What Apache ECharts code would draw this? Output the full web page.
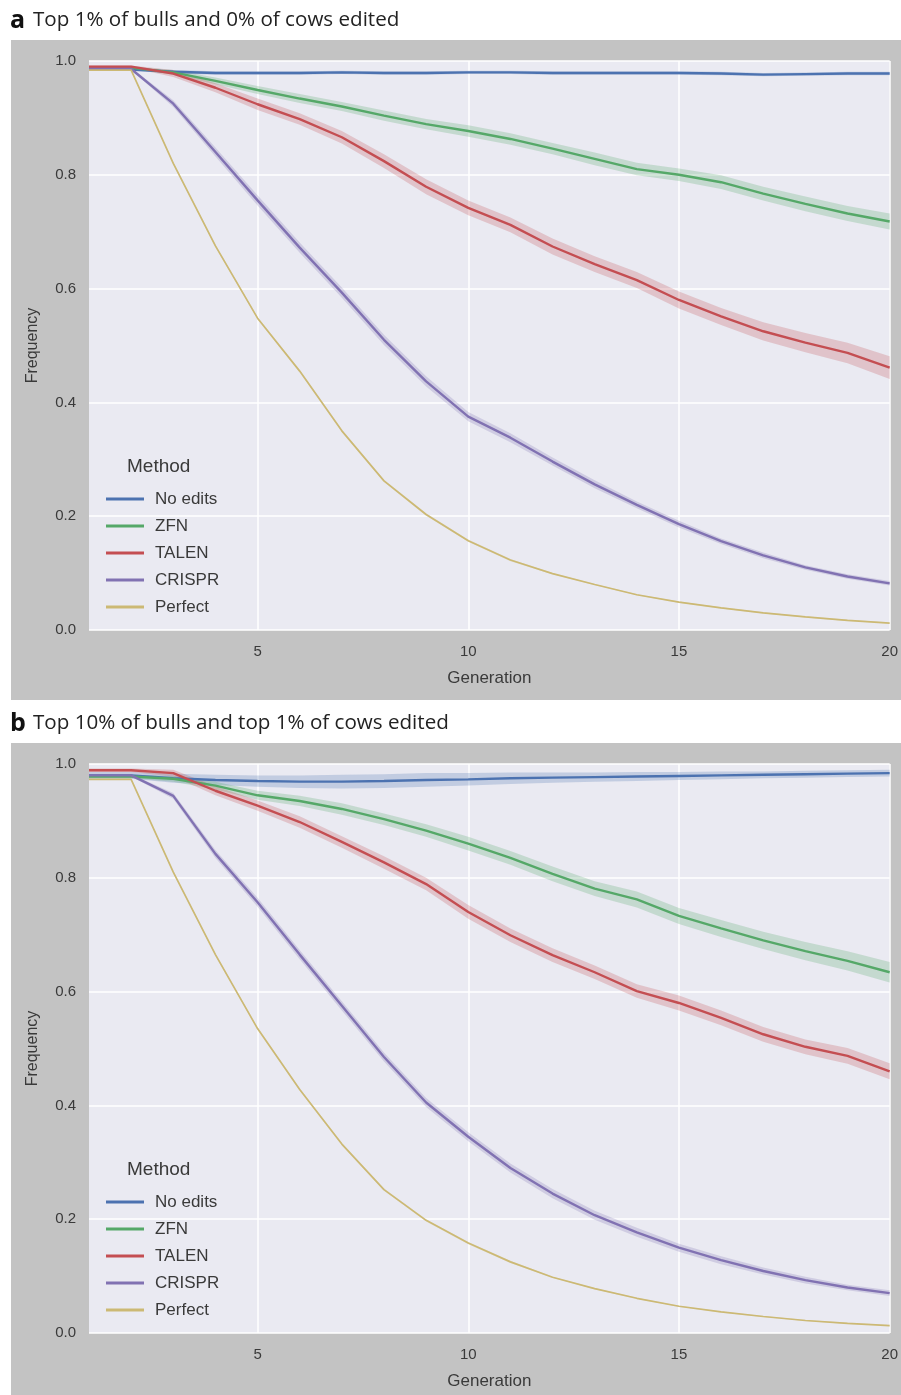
<!DOCTYPE html>
<html>
<head>
<meta charset="utf-8">
<script src="https://cdn.jsdelivr.net/npm/echarts@6/dist/echarts.min.js"></script>
<style>
  html, body { margin: 0; padding: 0; background: #ffffff; }
  #wrap { position: relative; width: 901px; height: 1395px; overflow: hidden; }
  .panel { position: absolute; background: #c3c3c3; }
  #main { position: absolute; left: 0; top: 0; width: 901px; height: 1395px; }
</style>
</head>
<body>
<div id="wrap">
  <div class="panel" style="left:11px;top:40px;width:890px;height:660px;"></div>
  <div class="panel" style="left:11px;top:743px;width:890px;height:652px;"></div>
  <div id="main"></div>
</div>
<script>
// ---------- data ----------
const generations = ['1','2','3','4','5','6','7','8','9','10','11','12','13','14','15','16','17','18','19','20'];
const xTickLabels = ['5','10','15','20'];
const yTicks = [0.0, 0.2, 0.4, 0.6, 0.8, 1.0];
const methods = ['No edits', 'ZFN', 'TALEN', 'CRISPR', 'Perfect'];
const panelTitles = ['Top 1% of bulls and 0% of cows edited', 'Top 10% of bulls and top 1% of cows edited'];
const panelLetters = ['a', 'b'];

// Panel a: mean frequency
const aNoEdits = [0.985,0.985,0.981,0.979,0.979,0.979,0.980,0.979,0.979,0.980,0.980,0.979,0.979,0.979,0.979,0.978,0.976,0.977,0.978,0.978];
const aZFN     = [0.988,0.988,0.980,0.965,0.949,0.934,0.920,0.904,0.889,0.877,0.863,0.846,0.828,0.810,0.800,0.787,0.767,0.749,0.732,0.718];
const aTALEN   = [0.990,0.990,0.978,0.953,0.924,0.898,0.866,0.824,0.779,0.742,0.712,0.674,0.643,0.615,0.580,0.551,0.525,0.505,0.487,0.461];
const aCRISPR  = [0.986,0.986,0.925,0.840,0.755,0.672,0.593,0.510,0.437,0.375,0.338,0.296,0.256,0.220,0.186,0.156,0.131,0.110,0.094,0.082];
const aPerfect = [0.984,0.984,0.820,0.675,0.548,0.455,0.350,0.262,0.203,0.157,0.123,0.099,0.080,0.062,0.049,0.039,0.030,0.023,0.017,0.012];
// Panel a: confidence band half-widths
const aNoEditsCI = [0.002,0.002,0.003,0.003,0.003,0.003,0.003,0.003,0.003,0.003,0.003,0.003,0.003,0.003,0.003,0.003,0.003,0.003,0.003,0.003];
const aZFNCI     = [0.002,0.002,0.004,0.006,0.007,0.008,0.008,0.009,0.009,0.010,0.010,0.010,0.011,0.011,0.011,0.012,0.012,0.013,0.013,0.014];
const aTALENCI   = [0.002,0.002,0.006,0.008,0.010,0.010,0.011,0.012,0.013,0.013,0.013,0.014,0.014,0.014,0.015,0.015,0.016,0.017,0.018,0.020];
const aCRISPRCI  = [0.002,0.002,0.006,0.008,0.009,0.009,0.009,0.009,0.009,0.008,0.008,0.007,0.007,0.006,0.006,0.005,0.005,0.004,0.004,0.004];
const aPerfectCI = [0.001,0.001,0.002,0.002,0.002,0.002,0.002,0.002,0.002,0.002,0.002,0.001,0.001,0.001,0.001,0.001,0.001,0.001,0.001,0.001];

// Panel b: mean frequency
const bNoEdits = [0.980,0.980,0.975,0.972,0.970,0.969,0.969,0.970,0.972,0.973,0.975,0.976,0.977,0.978,0.979,0.980,0.981,0.982,0.983,0.984];
const bZFN     = [0.978,0.978,0.974,0.962,0.945,0.935,0.921,0.903,0.883,0.860,0.835,0.807,0.781,0.762,0.733,0.711,0.690,0.671,0.654,0.634];
const bTALEN   = [0.989,0.989,0.984,0.953,0.927,0.898,0.863,0.827,0.789,0.740,0.699,0.664,0.634,0.601,0.580,0.554,0.525,0.503,0.487,0.460];
const bCRISPR  = [0.980,0.980,0.944,0.842,0.757,0.665,0.575,0.485,0.405,0.345,0.290,0.245,0.207,0.177,0.150,0.128,0.109,0.093,0.080,0.070];
const bPerfect = [0.973,0.973,0.810,0.665,0.535,0.428,0.332,0.252,0.198,0.158,0.125,0.098,0.078,0.061,0.047,0.037,0.029,0.022,0.017,0.013];
// Panel b: confidence band half-widths
const bNoEditsCI = [0.006,0.006,0.008,0.009,0.010,0.011,0.012,0.012,0.012,0.011,0.010,0.009,0.008,0.008,0.007,0.007,0.006,0.006,0.006,0.006];
const bZFNCI     = [0.003,0.003,0.005,0.007,0.008,0.009,0.010,0.010,0.011,0.012,0.012,0.013,0.013,0.014,0.014,0.015,0.015,0.016,0.017,0.018];
const bTALENCI   = [0.003,0.003,0.006,0.008,0.009,0.010,0.010,0.011,0.011,0.012,0.012,0.012,0.012,0.012,0.013,0.013,0.013,0.013,0.014,0.014];
const bCRISPRCI  = [0.002,0.002,0.005,0.007,0.008,0.008,0.008,0.008,0.008,0.008,0.008,0.008,0.008,0.008,0.007,0.007,0.006,0.006,0.005,0.005];
const bPerfectCI = [0.001,0.001,0.002,0.002,0.002,0.002,0.002,0.002,0.002,0.002,0.002,0.001,0.001,0.001,0.001,0.001,0.001,0.001,0.001,0.001];

// ---------- styling ----------
const colors = ['#4c72b0', '#55a868', '#c44e52', '#8172b2', '#ccb974'];
const lineWidths = [2.4, 2.4, 2.4, 2.4, 1.7];
const FONT = 'Liberation Sans, Arial, sans-serif';
const TEXT = '#3a3a3a';

const panels = [
  { means: [aNoEdits, aZFN, aTALEN, aCRISPR, aPerfect], cis: [aNoEditsCI, aZFNCI, aTALENCI, aCRISPRCI, aPerfectCI], top: 61, offset: 0 },
  { means: [bNoEdits, bZFN, bTALEN, bCRISPR, bPerfect], cis: [bNoEditsCI, bZFNCI, bTALENCI, bCRISPRCI, bPerfectCI], top: 764, offset: 703 }
];

const grids = [], xAxes = [], yAxes = [], series = [], legends = [], graphics = [];

panels.forEach((p, pi) => {
  grids.push({ left: 89, width: 801, top: p.top, height: 569, show: true, backgroundColor: '#eaeaf2', borderWidth: 0 });
  xAxes.push({
    type: 'category', gridIndex: pi, data: generations, boundaryGap: false,
    name: 'Generation', nameLocation: 'middle', nameGap: 40,
    nameTextStyle: { color: TEXT, fontSize: 17, fontFamily: FONT },
    axisLine: { show: false }, axisTick: { show: false },
    axisLabel: { color: TEXT, fontSize: 15, fontFamily: FONT, margin: 14,
      interval: (i, v) => xTickLabels.indexOf(v) >= 0 },
    splitLine: { show: true, lineStyle: { color: '#ffffff', width: 1.5 },
      interval: (i, v) => xTickLabels.indexOf(v) >= 0 }
  });
  yAxes.push({
    type: 'value', gridIndex: pi, min: yTicks[0], max: yTicks[yTicks.length - 1], interval: 0.2,
    name: 'Frequency', nameLocation: 'middle', nameGap: 48,
    nameTextStyle: { color: TEXT, fontSize: 16, fontFamily: FONT },
    axisLine: { show: false }, axisTick: { show: false },
    axisLabel: { color: TEXT, fontSize: 15, fontFamily: FONT, margin: 13, formatter: v => v.toFixed(1) },
    splitLine: { show: true, lineStyle: { color: '#ffffff', width: 1.5 } }
  });
  // confidence bands
  methods.forEach((m, mi) => {
    const mean = p.means[mi], ci = p.cis[mi];
    const stack = 'band' + pi + '_' + mi;
    series.push({
      type: 'line', xAxisIndex: pi, yAxisIndex: pi, stack: stack, silent: true,
      data: mean.map((v, k) => +(v - ci[k]).toFixed(4)),
      symbol: 'none', lineStyle: { opacity: 0 }, z: 1
    });
    series.push({
      type: 'line', xAxisIndex: pi, yAxisIndex: pi, stack: stack, silent: true,
      data: ci.map(c => +(2 * c).toFixed(4)),
      symbol: 'none', lineStyle: { opacity: 0 },
      areaStyle: { color: colors[mi], opacity: 0.25 }, z: 1
    });
  });
  // mean lines
  methods.forEach((m, mi) => {
    series.push({
      name: m, type: 'line', xAxisIndex: pi, yAxisIndex: pi,
      data: p.means[mi], symbol: 'none', showSymbol: false,
      lineStyle: { color: colors[mi], width: lineWidths[mi] },
      itemStyle: { color: colors[mi] }, z: 3
    });
  });
  legends.push({
    data: methods, orient: 'vertical', left: 101, top: 484 + p.offset,
    icon: 'rect', itemWidth: 38, itemHeight: 3, itemGap: 7,
    textStyle: { color: TEXT, fontSize: 17, fontFamily: FONT, lineHeight: 20, padding: [0, 0, 0, 6] },
    selectedMode: false
  });
  graphics.push({
    type: 'text', left: 127, top: 457 + p.offset,
    style: { text: 'Method', fill: TEXT, font: '19px ' + FONT }
  });
  graphics.push({
    type: 'text', left: 10, top: 8 + p.offset,
    style: { text: panelLetters[pi], fill: '#111', font: 'bold 25px "Open Sans", sans-serif' }
  });
  graphics.push({
    type: 'text', left: 33, top: 10 + p.offset,
    style: { text: panelTitles[pi], fill: '#222', font: '20.6px "Open Sans", sans-serif' }
  });
});

const chart = echarts.init(document.getElementById('main'), null, { renderer: 'canvas' });
chart.setOption({
  animation: false,
  color: colors,
  grid: grids,
  xAxis: xAxes,
  yAxis: yAxes,
  legend: legends,
  graphic: graphics,
  series: series
});
</script>
</body>
</html>
